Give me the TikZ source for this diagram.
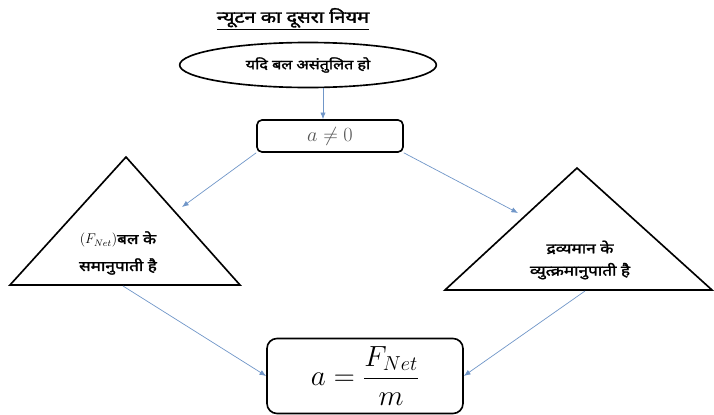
\documentclass[tikz,border=0pt]{standalone}
\usepackage{fontspec}
\newfontfamily\hindi[Script=Devanagari,FakeStretch=1.22,FakeBold=2]{Noto Sans}
\usetikzlibrary{arrows.meta,positioning,shapes.geometric,calc}
\definecolor{arrowblue}{HTML}{7096C8}
\definecolor{textgray}{HTML}{555555}
\tikzset{
  box/.style={draw=black,rounded corners=1.5mm,line width=1.4pt,minimum width=43.8mm,
    minimum height=9.6mm,inner sep=0pt},
  oval/.style={ellipse,draw=black,line width=1.4pt,minimum width=77mm,minimum height=13.5mm,
    inner sep=0pt,font=\hindi\fontsize{11.3}{13}\selectfont},
  tri/.style={draw=black,line width=1.4pt,line join=miter},
  tritext/.style={align=center,font=\hindi\fontsize{12}{14}\selectfont,inner sep=0pt},
  arrow/.style={-{Latex[length=2mm,width=1.6mm]},draw=arrowblue,line width=0.6pt}
}

\begin{document}
\begin{tikzpicture}[x=0.03cm,y=-0.03cm]
  \useasboundingbox (0,0) rectangle (714,415);
  \node[font=\hindi\fontsize{14}{16}\selectfont] (title) at (293,19) {\underline{न्यूटन का दूसरा नियम}};
  \node[oval] (cond) at (308,65) {यदि बल असंतुलित हो};
  \node[box,font=\LARGE,text=textgray] (accel) at (330,136) {$a \neq 0$};
  % left triangle
  \coordinate (ltop) at (126,157);
  \coordinate (lright) at (240,285);
  \coordinate (lleft) at (10,285);
  \draw[tri] (ltop) -- (lright) -- (lleft) -- cycle;
  \node[tritext] (force) at (118,253) {$(F_{Net})$बल के\\[9pt] समानुपाती है};
  % right triangle
  \coordinate (rtop) at (577,168);
  \coordinate (rright) at (712,290);
  \coordinate (rleft) at (445,290);
  \draw[tri] (rtop) -- (rright) -- (rleft) -- cycle;
  \node[tritext] (mass) at (580,260) {द्रव्यमान के\\[5pt] व्युत्क्रमानुपाती है};
  \node[draw=black,rounded corners=3mm,line width=1.4pt,minimum width=58.8mm,
    minimum height=22.5mm,font=\fontsize{23}{27}\selectfont] (law) at (365,376)
    {$a = \displaystyle\frac{F_{Net}}{m}$};
  % connectors
  \coordinate (condout) at ($(cond.south)+(15,0)$);
  \coordinate (lhit) at (182,207);
  \coordinate (rhit) at (518,213);
  \coordinate (lbase) at (123,286);
  \coordinate (rbase) at (585,291);
  \draw[arrow] (condout) -- (condout |- accel.north);
  \draw[arrow] (accel.south west) -- (lhit);
  \draw[arrow] (accel.south east) -- (rhit);
  \draw[arrow] (lbase) -- (law.west);
  \draw[arrow] (rbase) -- (law.east);
\end{tikzpicture}
\end{document}
